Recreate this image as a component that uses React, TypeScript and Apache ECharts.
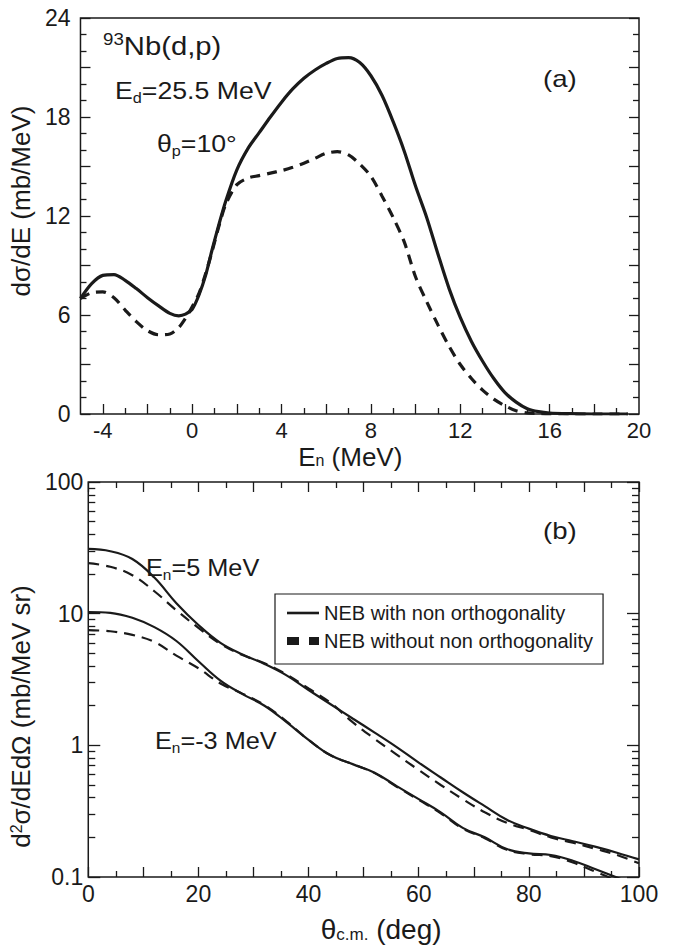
import React, { useEffect, useRef } from 'react';
import * as echarts from 'echarts';

// ---------- Panel (a): dσ/dE vs E_n ----------
const EN = [-5, -4.5, -4, -3.5, -3, -2.5, -2, -1.5, -1, -0.6, -0.3, 0, 0.3, 0.6, 0.9, 1.2, 1.5, 2, 2.5, 3, 3.5, 4, 4.5, 5, 5.5, 6, 6.5, 7, 7.5, 8, 8.5, 9, 9.5, 10, 10.5, 11, 11.5, 12, 12.5, 13, 13.5, 14, 14.5, 15, 15.5, 16, 17, 18, 19.5];
const DSDE_WITH = [7.0, 7.9, 8.4, 8.45, 8.1, 7.6, 7.05, 6.55, 6.1, 5.95, 6.05, 6.35, 7.2, 8.4, 10.0, 11.5, 12.9, 14.8, 16.1, 17.05, 18.0, 18.9, 19.7, 20.35, 20.85, 21.25, 21.55, 21.6, 21.3, 20.5, 19.3, 17.7, 15.9, 13.8, 11.9, 9.7, 7.6, 5.85, 4.4, 3.2, 2.15, 1.3, 0.72, 0.32, 0.14, 0.06, 0.02, 0.0, 0.0];
const DSDE_WITHOUT = [7.0, 7.35, 7.4, 7.05, 6.3, 5.6, 5.05, 4.8, 4.85, 5.25, 5.8, 6.5, 7.3, 8.5, 9.9, 11.4, 12.7, 13.9, 14.3, 14.45, 14.6, 14.75, 14.95, 15.2, 15.5, 15.8, 15.9, 15.7, 15.15, 14.4, 13.2, 11.9, 10.4, 8.3, 6.8, 5.4, 4.1, 3.0, 2.15, 1.45, 0.9, 0.5, 0.2, 0.07, 0.03, 0.01, 0, 0, 0];

// ---------- Panel (b): d²σ/dEdΩ vs θ ----------
const THETA = [0, 4, 8, 12, 16, 20, 24, 28, 32, 36, 40, 44, 48, 52, 56, 60, 64, 68, 72, 76, 80, 84, 88, 92, 96, 100];
const EN5_WITH = [31.0, 29.8, 26.0, 18.8, 12.0, 8.2, 6.0, 4.9, 4.15, 3.4, 2.63, 2.05, 1.6, 1.25, 0.97, 0.74, 0.57, 0.44, 0.345, 0.272, 0.233, 0.205, 0.187, 0.17, 0.153, 0.136];
const EN5_WITHOUT = [24.2, 22.7, 19.6, 14.8, 10.6, 7.8, 5.9, 4.85, 4.2, 3.45, 2.7, 2.1, 1.5, 1.12, 0.85, 0.65, 0.5, 0.39, 0.31, 0.258, 0.228, 0.2, 0.182, 0.164, 0.147, 0.127];
const ENM3_WITH = [10.3, 10.15, 9.3, 7.9, 6.2, 4.35, 3.1, 2.45, 2.0, 1.5, 1.1, 0.84, 0.72, 0.62, 0.49, 0.39, 0.31, 0.236, 0.2, 0.163, 0.151, 0.147, 0.133, 0.115, 0.099, 0.085];
const ENM3_WITHOUT = [7.5, 7.35, 6.9, 6.1, 4.8, 3.85, 2.95, 2.47, 2.02, 1.52, 1.1, 0.84, 0.72, 0.615, 0.485, 0.385, 0.305, 0.233, 0.197, 0.161, 0.149, 0.144, 0.129, 0.11, 0.094, 0.08];

// ---------- Tick / label values ----------
const XA_LABELS = [-4, 0, 4, 8, 12, 16, 20];
const XA_MAJOR = [-4, -2, 0, 2, 4, 6, 8, 10, 12, 14, 16, 18];
const XA_MINOR = [-3, -1, 1, 3, 5, 7, 9, 11, 13, 15, 17, 19];
const LOG_DECADES = [0.1, 1, 10];
const LOG_MULTS = [2, 3, 4, 5, 6, 7, 8, 9];
const LOG_MINOR_EXP: number[] = [];
LOG_DECADES.forEach((d) => LOG_MULTS.forEach((m) => LOG_MINOR_EXP.push(Math.log10(d * m))));

const W = 'NEB with non orthogonality';
const WO = 'NEB without non orthogonality';

const FONT = '"Liberation Sans", Arial, Helvetica, sans-serif';
const INK = '#1a1a1a';

const pairs = (xs: number[], ys: number[]) => xs.map((x, i) => [x, ys[i]]);

const tickStyle = { color: INK, width: 1.3 };
const noLine = { show: false, onZero: false };

function annot(x: number, y: number, text: string, fs: number, scaleX: number) {
  return {
    type: 'text',
    x,
    y,
    scaleX,
    silent: true,
    style: {
      text,
      fill: INK,
      fontFamily: FONT,
      fontSize: fs,
      align: 'left',
      verticalAlign: 'middle',
      rich: {
        m: { fontSize: fs, lineHeight: fs + 5, fontFamily: FONT, fill: INK },
        s: { fontSize: Math.round(fs * 0.62), lineHeight: Math.round(fs * 0.62), verticalAlign: 'bottom', fontFamily: FONT, fill: INK },
        p: { fontSize: Math.round(fs * 0.62), lineHeight: Math.round(fs * 0.62), verticalAlign: 'top', fontFamily: FONT, fill: INK },
      },
    },
  };
}

export default function App() {
  const ref = useRef<HTMLDivElement>(null);

  useEffect(() => {
    if (!ref.current) return;
    const chart = echarts.init(ref.current, undefined, { renderer: 'svg' });

    const nameRich = (fs: number, lh: number) => ({
      m: { fontSize: fs, lineHeight: lh, fontFamily: FONT, color: INK },
      s: { fontSize: Math.round(fs * 0.62), lineHeight: Math.round(fs * 0.62), verticalAlign: 'bottom', fontFamily: FONT, color: INK },
      p: { fontSize: Math.round(fs * 0.6), lineHeight: Math.round(fs * 0.6), verticalAlign: 'top', fontFamily: FONT, color: INK },
    });

    const option: any = {
      animation: false,
      backgroundColor: '#ffffff',
      color: [INK],
      textStyle: { fontFamily: FONT, color: INK },
      grid: [
        { left: 72, top: 18, width: 567, height: 396, show: true, borderColor: INK, borderWidth: 1.5, backgroundColor: 'transparent' },
        { left: 72, top: 482, width: 567, height: 395, show: true, borderColor: INK, borderWidth: 1.5, backgroundColor: 'transparent' },
      ],
      xAxis: [
        {
          gridIndex: 0, type: 'value', position: 'bottom', min: -5, max: 20,
          axisLine: noLine, splitLine: { show: false },
          axisTick: { show: true, inside: true, length: 10, customValues: XA_MAJOR, lineStyle: tickStyle },
          axisLabel: { customValues: XA_LABELS, fontSize: 22, lineHeight: 20, color: INK, fontFamily: FONT, margin: 6 },
          name: '{m|E}{s|n}{m| (MeV)}', nameLocation: 'middle', nameGap: 32,
          nameTextStyle: { fontSize: 26, color: INK, fontFamily: FONT, padding: [0, 19, 0, 0], rich: nameRich(26, 22) },
        },
        {
          gridIndex: 0, type: 'value', position: 'bottom', min: -5, max: 20,
          axisLine: noLine, splitLine: { show: false },
          axisTick: { show: true, inside: true, length: 6, customValues: XA_MINOR, lineStyle: tickStyle },
          axisLabel: { show: false },
        },
        {
          gridIndex: 1, type: 'value', position: 'bottom', min: 0, max: 100, interval: 10,
          axisLine: noLine, splitLine: { show: false },
          axisTick: { show: true, inside: true, length: 10, lineStyle: tickStyle },
          minorTick: { show: true, splitNumber: 2, length: 6, lineStyle: tickStyle },
          axisLabel: { fontSize: 23, lineHeight: 22, color: INK, fontFamily: FONT, margin: 6, formatter: (v: number) => (v % 20 === 0 ? String(v) : '') },
          name: '{m|θ}{s|c.m.}{m| (deg)}', nameLocation: 'middle', nameGap: 38,
          nameTextStyle: { fontSize: 28, color: INK, fontFamily: FONT, padding: [0, 0, 0, 35], rich: nameRich(28, 28) },
        },
        {
          gridIndex: 1, type: 'value', position: 'top', min: 0, max: 100, interval: 10,
          axisLine: noLine, splitLine: { show: false },
          axisTick: { show: true, inside: true, length: 10, lineStyle: tickStyle },
          minorTick: { show: true, splitNumber: 2, length: 6, lineStyle: tickStyle },
          axisLabel: { show: false },
        },
      ],
      yAxis: [
        {
          gridIndex: 0, type: 'value', position: 'left', min: 0, max: 24, interval: 3,
          axisLine: noLine, splitLine: { show: false },
          axisTick: { show: true, inside: true, length: 10, lineStyle: tickStyle },
          minorTick: { show: true, splitNumber: 3, length: 6, lineStyle: tickStyle },
          axisLabel: { fontSize: 23, color: INK, fontFamily: FONT, margin: 10, formatter: (v: number) => (v % 6 === 0 ? String(v) : '') },
          name: 'dσ/dE (mb/MeV)', nameLocation: 'middle', nameRotate: 90, nameGap: 31,
          nameTextStyle: { fontSize: 26, color: INK, fontFamily: FONT, padding: [0, 0, 0, 30] },
        },
        {
          gridIndex: 0, type: 'value', position: 'right', min: 0, max: 24, interval: 3,
          axisLine: noLine, splitLine: { show: false },
          axisTick: { show: true, inside: true, length: 10, lineStyle: tickStyle },
          minorTick: { show: true, splitNumber: 3, length: 6, lineStyle: tickStyle },
          axisLabel: { show: false },
        },
        {
          gridIndex: 1, type: 'log', logBase: 10, position: 'left', min: 0.1, max: 100,
          axisLine: noLine, splitLine: { show: false },
          axisTick: { show: true, inside: true, length: 12, lineStyle: tickStyle },
          axisLabel: { fontSize: 23, color: INK, fontFamily: FONT, margin: 5, formatter: (v: number) => (v < 1 ? v.toFixed(1) : String(Math.round(v))) },
          name: 'd{p|2}σ/dEdΩ (mb/MeV sr)', nameLocation: 'middle', nameRotate: 90, nameGap: 30,
          nameTextStyle: { fontSize: 26, color: INK, fontFamily: FONT, padding: [0, 74, 0, 0], rich: nameRich(26, 26) },
        },
        {
          gridIndex: 1, type: 'log', logBase: 10, position: 'right', min: 0.1, max: 100,
          axisLine: noLine, splitLine: { show: false },
          axisTick: { show: true, inside: true, length: 12, lineStyle: tickStyle },
          axisLabel: { show: false },
        },
        {
          gridIndex: 1, type: 'value', position: 'left', min: -1, max: 2,
          axisLine: noLine, splitLine: { show: false },
          axisTick: { show: true, inside: true, length: 7, customValues: LOG_MINOR_EXP, lineStyle: tickStyle },
          axisLabel: { show: false },
        },
        {
          gridIndex: 1, type: 'value', position: 'right', min: -1, max: 2,
          axisLine: noLine, splitLine: { show: false },
          axisTick: { show: true, inside: true, length: 7, customValues: LOG_MINOR_EXP, lineStyle: tickStyle },
          axisLabel: { show: false },
        },
      ],
      legend: {
        orient: 'vertical',
        left: 275,
        top: 594,
        padding: [9, 10, 13, 8],
        itemWidth: 32,
        itemHeight: 14,
        itemGap: 8,
        borderColor: INK,
        borderWidth: 1.2,
        backgroundColor: '#ffffff',
        selectedMode: false,
        itemStyle: { color: 'rgba(0,0,0,0)', borderWidth: 0, opacity: 0 },
        textStyle: { fontSize: 20, color: INK, fontFamily: FONT },
        data: [
          { name: W, itemStyle: { opacity: 0 }, lineStyle: { width: 2.6, type: 'solid', color: INK } },
          { name: WO, itemStyle: { opacity: 0 }, lineStyle: { width: 8, type: [12, 10], color: INK, cap: 'butt' } },
        ],
      },
      graphic: [
        annot(103, 46, '{p|93}{m|Nb(d,p)}', 25, 1.17),
        annot(115, 91, '{m|E}{s|d}{m|=25.5 MeV}', 23, 1.16),
        annot(157, 144, '{m|θ}{s|p}{m|=10°}', 23, 1.16),
        annot(543, 79, '{m|(a)}', 23, 1.2),
        annot(543, 531, '{m|(b)}', 23, 1.2),
        annot(146, 568, '{m|E}{s|n}{m|=5 MeV}', 23, 1.1),
        annot(155, 741, '{m|E}{s|n}{m|=-3 MeV}', 23, 1.1),
      ],
      series: [
        {
          name: 'with (a)', type: 'line', xAxisIndex: 0, yAxisIndex: 0, data: pairs(EN, DSDE_WITH),
          symbol: 'none', showSymbol: false, smooth: 0.3, itemStyle: { color: INK }, lineStyle: { color: INK, width: 3.2 }, z: 3,
        },
        {
          name: 'without (a)', type: 'line', xAxisIndex: 0, yAxisIndex: 0, data: pairs(EN, DSDE_WITHOUT),
          symbol: 'none', showSymbol: false, smooth: 0.3, itemStyle: { color: INK }, lineStyle: { color: INK, width: 3.2, type: [10, 7] }, z: 2,
        },
        {
          name: W, type: 'line', xAxisIndex: 2, yAxisIndex: 2, data: pairs(THETA, EN5_WITH),
          symbol: 'none', showSymbol: false, smooth: 0.4, itemStyle: { color: INK }, lineStyle: { color: INK, width: 2.2 }, z: 3,
        },
        {
          name: WO, type: 'line', xAxisIndex: 2, yAxisIndex: 2, data: pairs(THETA, EN5_WITHOUT),
          symbol: 'none', showSymbol: false, smooth: 0.4, itemStyle: { color: INK }, lineStyle: { color: INK, width: 2.2, type: [11, 7] }, z: 2,
        },
        {
          name: W, type: 'line', xAxisIndex: 2, yAxisIndex: 2, data: pairs(THETA, ENM3_WITH),
          symbol: 'none', showSymbol: false, smooth: 0.4, itemStyle: { color: INK }, lineStyle: { color: INK, width: 2.2 }, z: 3,
        },
        {
          name: WO, type: 'line', xAxisIndex: 2, yAxisIndex: 2, data: pairs(THETA, ENM3_WITHOUT),
          symbol: 'none', showSymbol: false, smooth: 0.4, itemStyle: { color: INK }, lineStyle: { color: INK, width: 2.2, type: [11, 7] }, z: 2,
        },
      ],
    };

    chart.setOption(option);
    return () => chart.dispose();
  }, []);

  return (
    <div
      ref={ref}
      style={{ position: 'absolute', left: 0, top: 0, width: 681, height: 951, background: '#fff' }}
    />
  );
}
